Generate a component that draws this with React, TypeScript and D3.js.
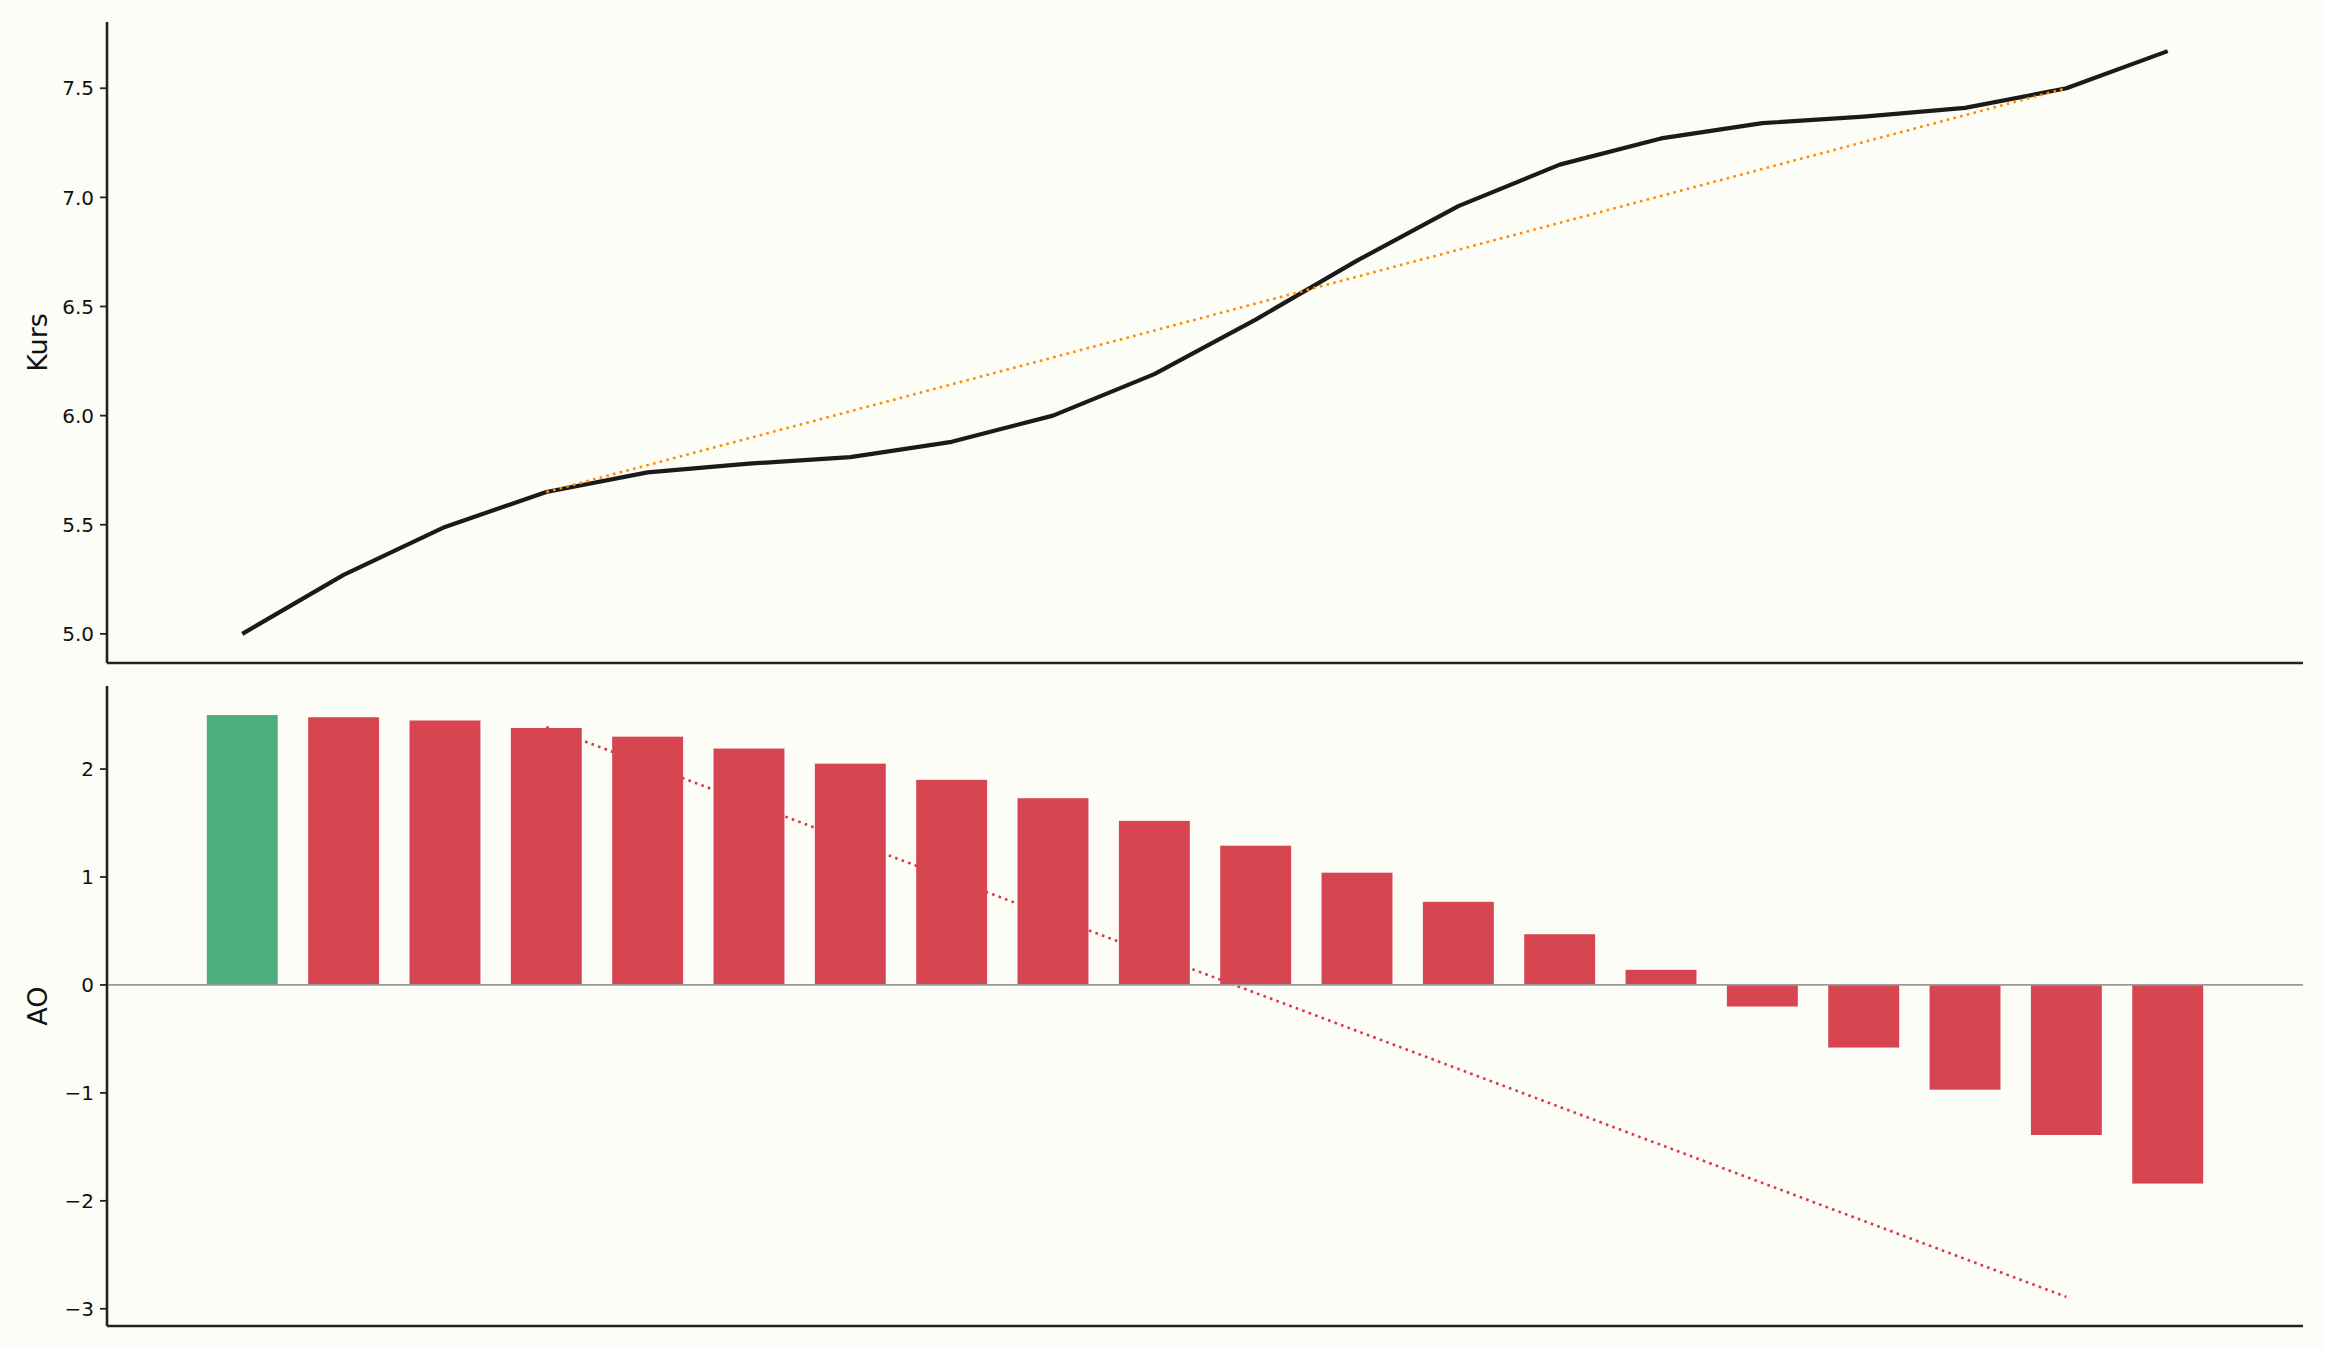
import * as React from "react";
import * as d3 from "d3";

// price series (Kurs) and Awesome Oscillator values, one per bar
const kurs = [5.0, 5.27, 5.49, 5.65, 5.74, 5.78, 5.81, 5.88, 6.0, 6.19,
  6.44, 6.71, 6.96, 7.15, 7.27, 7.34, 7.37, 7.41, 7.5, 7.67];
const ao = [2.5, 2.48, 2.45, 2.38, 2.3, 2.19, 2.05, 1.9, 1.73, 1.52,
  1.29, 1.04, 0.77, 0.47, 0.14, -0.2, -0.58, -0.97, -1.39, -1.84];

// divergence trend lines: [index, value]
const priceTrend: [number, number][] = [[3, 5.65], [18, 7.5]];
const aoTrend: [number, number][] = [[3, 2.39], [18, -2.89]];

const kursTicks = [5.0, 5.5, 6.0, 6.5, 7.0, 7.5];
const aoTicks = [-3, -2, -1, 0, 1, 2];

const W = 2325;
const H = 1350;
const left = 107;
const right = 2303;
const top1 = 22, bottom1 = 663;
const top2 = 686, bottom2 = 1326;

const BG = "#fdfdf8";
const GREEN = "#4daf7e";
const RED = "#d64550";
const FONT = "DejaVu Sans, sans-serif";

function padded(vals: number[]): [number, number] {
  const [lo, hi] = d3.extent(vals) as [number, number];
  const m = (hi - lo) * 0.05;
  return [lo - m, hi + m];
}

const minus = (s: string) => s.replace("-", "\u2212");

export default function App() {
  React.useEffect(() => {
    document.body.style.margin = "0";
    document.body.style.background = BG;
  }, []);

  const idx = d3.range(kurs.length);
  const barW = 0.7;
  const n = kurs.length - 1 + barW;
  const x = d3.scaleLinear()
    .domain([-barW / 2 - n * 0.05, kurs.length - 1 + barW / 2 + n * 0.05])
    .range([left, right]);

  const y1 = d3.scaleLinear()
    .domain(padded(kurs.concat(priceTrend.map(d => d[1]))))
    .range([bottom1, top1]);
  const y2 = d3.scaleLinear()
    .domain(padded(ao.concat(aoTrend.map(d => d[1])).concat([0])))
    .range([bottom2, top2]);

  const priceLine = d3.line<number>().x(i => x(i)).y(i => y1(kurs[i]));
  const trendLine1 = d3.line<[number, number]>().x(d => x(d[0])).y(d => y1(d[1]));
  const trendLine2 = d3.line<[number, number]>().x(d => x(d[0])).y(d => y2(d[1]));

  const bw = x(barW) - x(0);

  const yTicks = (scale: d3.ScaleLinear<number, number>, ticks: number[], fmt: (v: number) => string) =>
    ticks.map(t => (
      <g key={t} transform={`translate(${left},${scale(t)})`}>
        <line x1={-7} x2={0} stroke="#222" strokeWidth={1.8} />
        <text x={-13} dy="0.36em" textAnchor="end" fontSize={20} fontFamily={FONT} fill="#111">
          {fmt(t)}
        </text>
      </g>
    ));

  return (
    <svg width={W} height={H} style={{ display: "block", background: BG }}>
      <rect width={W} height={H} fill={BG} />

      {/* top panel: price */}
      <path d={priceLine(idx)!} fill="none" stroke="#1a1a1a" strokeWidth={4.2} strokeLinejoin="round" />
      <path d={trendLine1(priceTrend)!} fill="none" stroke="#ff8c00" strokeWidth={2.6} strokeDasharray="2.6 4.3" />
      <line x1={left} x2={left} y1={top1} y2={bottom1} stroke="#222" strokeWidth={2.6} />
      <line x1={left} x2={right} y1={bottom1} y2={bottom1} stroke="#222" strokeWidth={2.6} />
      {yTicks(y1, kursTicks, d3.format(".1f"))}
      <text transform={`translate(37,${(top1 + bottom1) / 2}) rotate(-90)`} textAnchor="middle"
        dy="0.36em" fontSize={27} fontFamily={FONT} fill="#111">Kurs</text>

      {/* bottom panel: AO histogram */}
      <path d={trendLine2(aoTrend)!} fill="none" stroke="#dc3545" strokeWidth={2.6} strokeDasharray="2.6 4.3" />
      {idx.map(i => {
        const v = ao[i];
        const rising = i === 0 || v > ao[i - 1];
        return (
          <rect key={i} x={x(i) - bw / 2} width={bw}
            y={Math.min(y2(v), y2(0))} height={Math.abs(y2(v) - y2(0))}
            fill={rising ? GREEN : RED} />
        );
      })}
      <line x1={left} x2={right} y1={y2(0)} y2={y2(0)} stroke="#999" strokeWidth={1.7} />
      <line x1={left} x2={left} y1={top2} y2={bottom2} stroke="#222" strokeWidth={2.6} />
      <line x1={left} x2={right} y1={bottom2} y2={bottom2} stroke="#222" strokeWidth={2.6} />
      {yTicks(y2, aoTicks, v => minus(d3.format("d")(v)))}
      <text transform={`translate(37,${(top2 + bottom2) / 2}) rotate(-90)`} textAnchor="middle"
        dy="0.36em" fontSize={27} fontFamily={FONT} fill="#111">AO</text>
    </svg>
  );
}
